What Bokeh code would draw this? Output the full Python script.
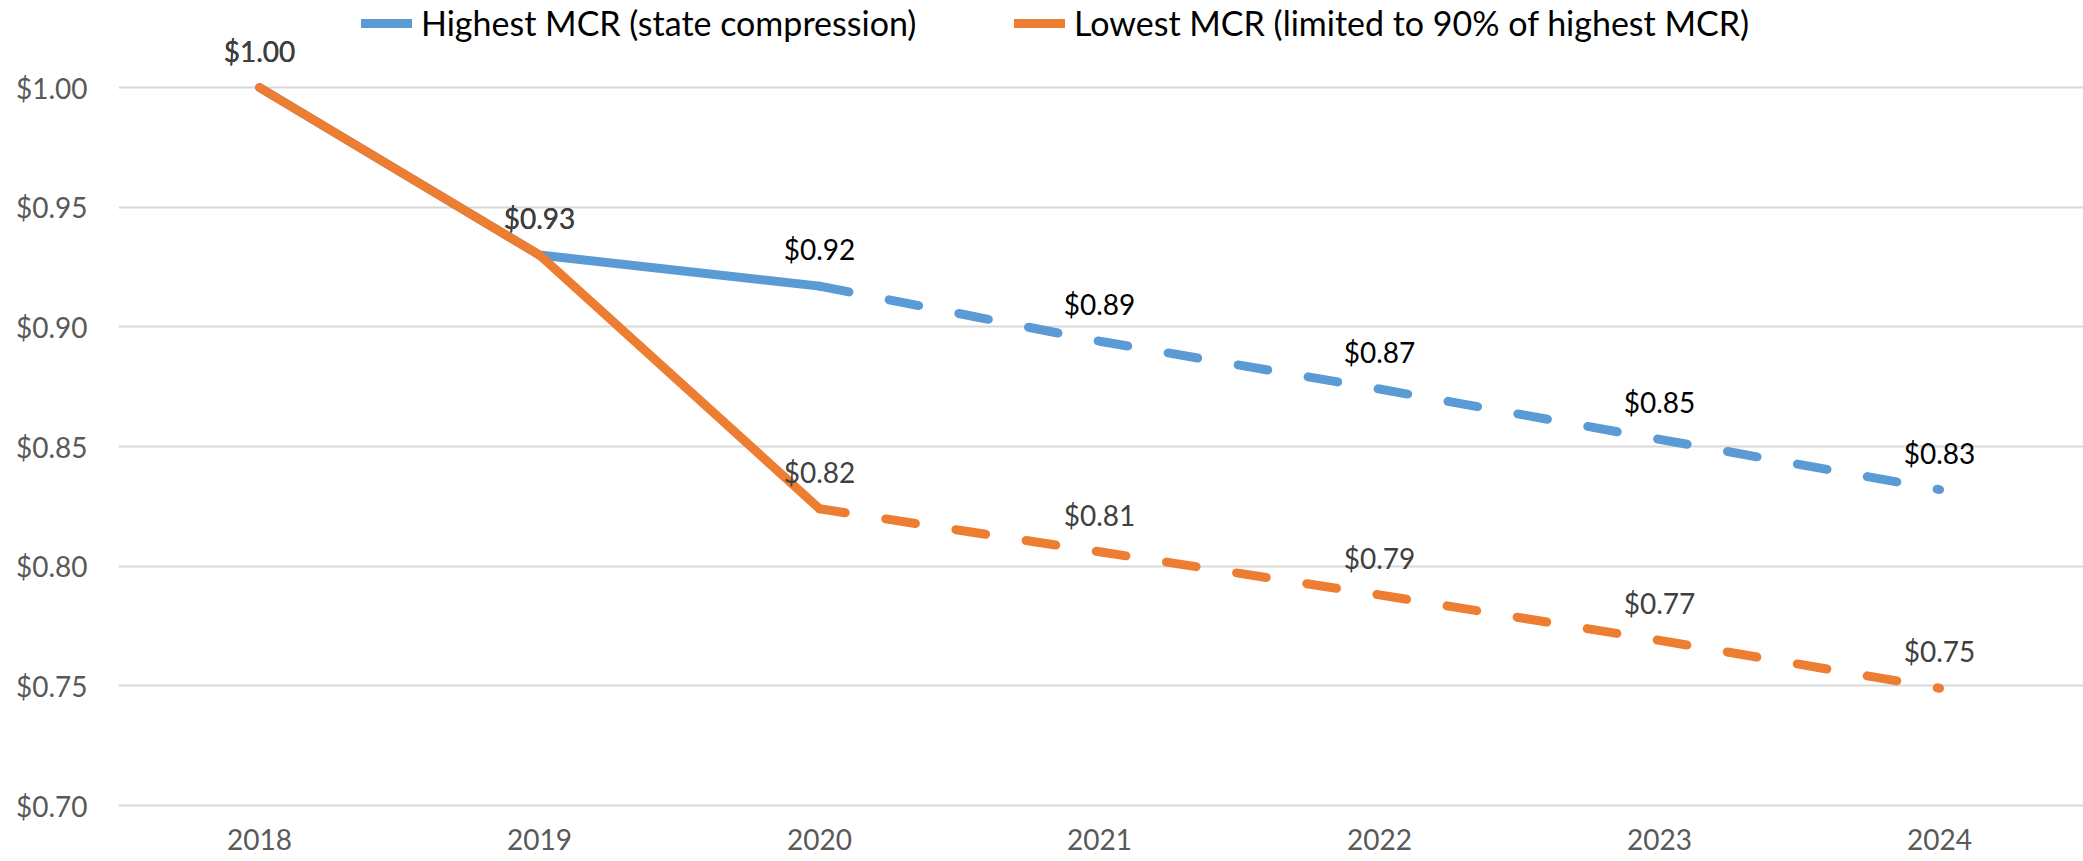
from bokeh.plotting import figure
from bokeh.models import (ColumnDataSource, Legend, LegendItem, FixedTicker,
                          NumeralTickFormatter, Range1d)
from bokeh.embed import file_html
from bokeh.resources import INLINE
from bokeh.core.properties import value

# ---------------- data ----------------
years = [2018, 2019, 2020, 2021, 2022, 2023, 2024]
highest_mcr = [1.00, 0.93, 0.917, 0.894, 0.874, 0.853, 0.832]
lowest_mcr = [1.00, 0.93, 0.824, 0.806, 0.788, 0.769, 0.749]
series_names = ["Highest MCR (state compression)",
                "Lowest MCR (limited to 90% of highest MCR)"]
y_ticks = [0.70, 0.75, 0.80, 0.85, 0.90, 0.95, 1.00]
projection_start = 2  # index of the first projected year (dashed from here)

BLUE = "#5B9BD5"
ORANGE = "#ED7D31"
FONT = "Lato"

# ---------------- layout (pixels) ----------------
W, H = 2083, 861
LEFT, TOP, BOTTOM, RIGHT = 118, 0, 54, 0
frame_w = W - LEFT - RIGHT
frame_h = H - TOP - BOTTOM
px_per_year = 280.0
first_year_px = 141.0          # first category centre from frame left
top_grid_px, bottom_grid_px = 87.0, 805.0   # y of 1.00 and 0.70 gridlines
ppu = (bottom_grid_px - top_grid_px) / (y_ticks[-1] - y_ticks[0])

x0 = years[0] - first_year_px / px_per_year
y_end = y_ticks[-1] + (top_grid_px - TOP) / ppu
y_start = y_ticks[0] - (TOP + frame_h - bottom_grid_px) / ppu

p = figure(width=W, height=H, output_backend="svg", toolbar_location=None,
           x_range=Range1d(x0, x0 + frame_w / px_per_year),
           y_range=Range1d(y_start, y_end),
           min_border_left=LEFT, min_border_right=RIGHT,
           min_border_top=TOP, min_border_bottom=BOTTOM)
p.outline_line_color = None
p.background_fill_color = "white"
p.border_fill_color = "white"

# grid
p.xgrid.grid_line_color = None
p.ygrid.grid_line_color = "#D9D9D9"
p.ygrid.grid_line_width = 2

# axes
p.xaxis.ticker = FixedTicker(ticks=years)
p.yaxis.ticker = FixedTicker(ticks=y_ticks)
p.yaxis.formatter = NumeralTickFormatter(format="$0.00")
for ax in (p.xaxis[0], p.yaxis[0]):
    ax.axis_line_color = None
    ax.major_tick_line_color = None
    ax.minor_tick_line_color = None
    ax.major_tick_out = 0
    ax.major_tick_in = 0
    ax.major_label_text_font = FONT
    ax.major_label_text_font_size = "28px"
    ax.major_label_text_color = "#595959"
p.yaxis.major_label_standoff = 31
p.xaxis.major_label_standoff = 21

def seg(vals, a, b):
    return ColumnDataSource(dict(x=years[a:b], y=vals[a:b]))

n = len(years)
k = projection_start
renderers = {}
for name, vals, col, dash_off in ((series_names[0], highest_mcr, BLUE, 0),
                                  (series_names[1], lowest_mcr, ORANGE, 4)):
    solid = p.line("x", "y", source=seg(vals, 0, k + 1), line_color=col,
                   line_width=9, line_cap="round", line_join="round")
    p.line("x", "y", source=seg(vals, k, n), line_color=col, line_width=9,
           line_cap="round", line_join="round", line_dash="30 41",
           line_dash_offset=dash_off)
    renderers[name] = solid

# data labels (blue first, orange on top where they coincide)
for vals, col in ((highest_mcr, "#000000"), (lowest_mcr, "#404040")):
    src = ColumnDataSource(dict(x=years, y=vals,
                                t=["$%.2f" % v for v in vals]))
    p.text("x", "y", text="t", source=src, text_font=value(FONT),
           text_font_size="28px", text_color=col, text_align="center",
           text_baseline="middle", y_offset=-37)

# legends (above the top gridline, inside the frame)
legend_centre_y = 23
legend_h = 40
leg_y = frame_h - legend_centre_y - legend_h / 2
legend_x = [243, 896]
for name, lx in zip(series_names, legend_x):
    lg = Legend(items=[LegendItem(label=name, renderers=[renderers[name]])],
                location=(lx, leg_y), orientation="horizontal",
                glyph_width=51, glyph_height=legend_h, label_standoff=9,
                label_height=legend_h,
                padding=0, margin=0, spacing=0,
                label_text_font=FONT, label_text_font_size="34px",
                label_text_color="#000000",
                background_fill_alpha=0, border_line_color=None)
    p.add_layout(lg)

open("out.html", "w").write(file_html(p, INLINE))
